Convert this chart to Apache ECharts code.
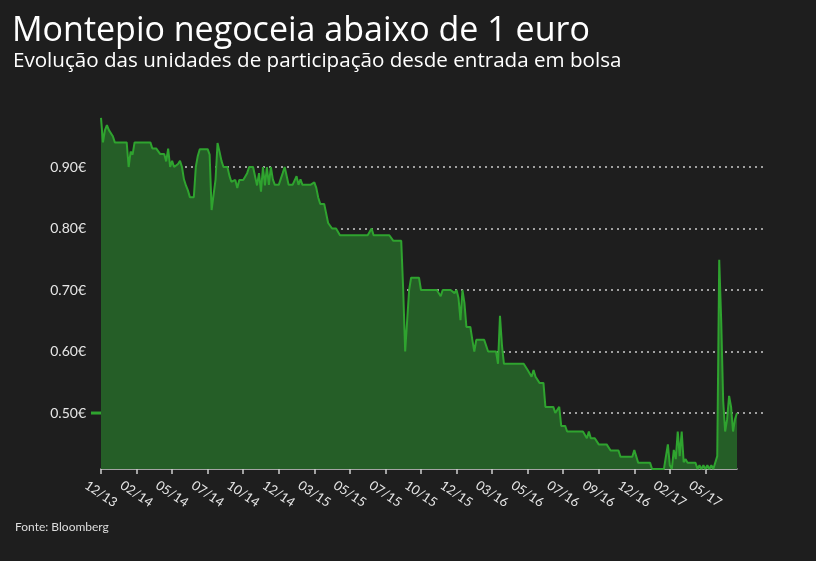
<!DOCTYPE html>
<html>
<head>
<meta charset="utf-8">
<script src="https://cdn.jsdelivr.net/npm/echarts@6/dist/echarts.min.js"></script>
<style>
html,body{margin:0;padding:0;background:#1e1e1e;}
#c{width:816px;height:561px;}
</style>
</head>
<body>
<div id="c"></div>
<script>
const titleText = 'Montepio negoceia abaixo de 1 euro';
const subtitleText = 'Evolução das unidades de participação desde entrada em bolsa';
const sourceText = 'Fonte: Bloomberg';

const tickLabels = ['12/13','02/14','05/14','07/14','10/14','12/14','03/15','05/15','07/15','10/15','12/15','03/16','05/16','07/16','09/16','12/16','02/17','05/17'];
const pointsPerTick = 18;

const yTicks = [0.5, 0.6, 0.7, 0.8, 0.9];

// Unit price (EUR), one reading every ~2 pixels along the axis
const prices = [
  0.98,0.94,0.96,0.968,0.96,0.96,0.95,0.94,0.94,0.94,
  0.94,0.94,0.94,0.94,0.90,0.925,0.92,0.94,0.94,0.94,
  0.94,0.94,0.94,0.94,0.94,0.94,0.93,0.93,0.93,0.93,
  0.921,0.921,0.921,0.909,0.93,0.90,0.91,0.90,0.90,0.905,
  0.91,0.90,0.88,0.87,0.862,0.851,0.851,0.851,0.90,0.918,
  0.929,0.929,0.929,0.929,0.929,0.92,0.83,0.83,0.88,0.939,
  0.925,0.91,0.90,0.90,0.90,0.886,0.876,0.879,0.879,0.866,
  0.879,0.879,0.879,0.879,0.89,0.90,0.90,0.90,0.90,0.87,
  0.89,0.86,0.90,0.87,0.90,0.871,0.90,0.88,0.871,0.871,
  0.871,0.871,0.89,0.90,0.90,0.871,0.871,0.871,0.871,0.885,
  0.871,0.88,0.871,0.871,0.871,0.871,0.871,0.871,0.875,0.866,
  0.85,0.84,0.84,0.84,0.84,0.809,0.809,0.80,0.80,0.80,
  0.80,0.789,0.789,0.789,0.789,0.789,0.789,0.789,0.789,0.789,
  0.789,0.789,0.789,0.789,0.789,0.789,0.789,0.80,0.789,0.789,
  0.789,0.789,0.789,0.789,0.789,0.789,0.789,0.789,0.78,0.78,
  0.78,0.78,0.78,0.70,0.60,0.65,0.70,0.72,0.72,0.72,
  0.72,0.72,0.70,0.70,0.70,0.70,0.70,0.70,0.70,0.70,
  0.70,0.70,0.69,0.70,0.70,0.70,0.70,0.70,0.70,0.695,
  0.70,0.687,0.651,0.70,0.679,0.64,0.64,0.64,0.619,0.60,
  0.619,0.619,0.619,0.619,0.619,0.619,0.60,0.60,0.60,0.60,
  0.60,0.58,0.658,0.61,0.58,0.58,0.58,0.58,0.58,0.58,
  0.58,0.58,0.58,0.58,0.58,0.58,0.57,0.57,0.559,0.57,
  0.559,0.559,0.549,0.549,0.549,0.51,0.51,0.51,0.51,0.51,
  0.50,0.50,0.51,0.479,0.479,0.479,0.47,0.47,0.47,0.47,
  0.47,0.47,0.47,0.47,0.47,0.47,0.459,0.47,0.459,0.459,
  0.459,0.459,0.449,0.449,0.449,0.449,0.449,0.449,0.439,0.439,
  0.439,0.439,0.439,0.429,0.429,0.429,0.429,0.429,0.429,0.429,
  0.44,0.44,0.419,0.419,0.419,0.419,0.419,0.419,0.419,0.409,
  0.409,0.409,0.409,0.409,0.409,0.409,0.409,0.449,0.415,0.409,
  0.44,0.425,0.47,0.43,0.47,0.42,0.425,0.419,0.419,0.419,
  0.419,0.419,0.409,0.415,0.409,0.415,0.409,0.415,0.409,0.415,
  0.409,0.409,0.43,0.749,0.65,0.52,0.47,0.49,0.528,0.51,
  0.47,0.49,0.50
];

const categories = prices.map((_, i) => String(i));

const FONT = 'Lato, "Open Sans", sans-serif';
const TITLE_FONT = '"Open Sans", Lato, sans-serif';
const chart = echarts.init(document.getElementById('c'), null, {renderer: 'canvas'});

const option = {
  backgroundColor: '#1e1e1e',
  animation: false,
  title: [
    {text: titleText, left: 12, top: 14, padding: 0, textStyle: {color: '#ffffff', fontFamily: TITLE_FONT, fontSize: 34, fontWeight: 'normal'}},
    {text: subtitleText, left: 13, top: 51, padding: 0, textStyle: {color: '#ffffff', fontFamily: TITLE_FONT, fontSize: 20.6, fontWeight: 'normal'}},
    {text: sourceText, left: 15, top: 521, padding: 0, textStyle: {color: '#dddddd', fontFamily: FONT, fontSize: 12, fontWeight: 'normal'}}
  ],
  grid: [
    {left: 101, right: 51, top: 105.5, bottom: 86.5, containLabel: false},
    {left: 101, right: 79, top: 105.5, bottom: 92, containLabel: false}
  ],
  xAxis: [
    {gridIndex: 0, type: 'value', show: false, min: 0, max: 1},
    {
      gridIndex: 1, type: 'category', data: categories, boundaryGap: false,
      axisLine: {show: true, lineStyle: {color: '#cfcfcf', width: 1.5}},
      axisTick: {show: true, interval: pointsPerTick - 1, length: 5, lineStyle: {color: '#cfcfcf', width: 1.5}},
      axisLabel: {
        interval: pointsPerTick - 1, rotate: -34, align: 'center', verticalAlign: 'middle', margin: 25,
        color: '#e6e6e6', fontFamily: FONT, fontSize: 13,
        formatter: (v, idx) => (idx % pointsPerTick === 0 ? (tickLabels[idx / pointsPerTick] || '') : '')
      },
      splitLine: {show: false}
    }
  ],
  yAxis: [
    {
      gridIndex: 0, type: 'value', min: 0.4, max: 1.0, interval: 0.1,
      axisLine: {show: false}, axisTick: {show: false},
      axisLabel: {
        showMinLabel: false, showMaxLabel: false, margin: 15,
        color: '#e6e6e6', fontFamily: FONT, fontSize: 14,
        formatter: v => (yTicks.some(t => Math.abs(t - v) < 1e-6) ? v.toFixed(2) + '€' : '')
      },
      splitLine: {show: true, showMinLine: false, showMaxLine: false, lineStyle: {color: '#a0a0a0', width: 2, type: [2, 4]}}
    },
    {gridIndex: 1, type: 'value', min: 0.409, max: 1.0, show: false, splitLine: {show: false}}
  ],
  series: [
    {
      type: 'line', xAxisIndex: 1, yAxisIndex: 1, data: prices,
      showSymbol: false, symbol: 'none',
      lineStyle: {color: '#2fa32f', width: 2},
      areaStyle: {color: '#255e27', opacity: 1, origin: 'start'},
      z: 3
    }
  ]
};
chart.setOption(option);

// small green marker at the 0.50€ level, just left of the plot
const p = chart.convertToPixel({xAxisIndex: 1, yAxisIndex: 1}, [0, 0.5]);
chart.setOption({
  graphic: [{
    type: 'line', shape: {x1: p[0] - 10, y1: p[1], x2: p[0], y2: p[1]},
    style: {stroke: '#2fa32f', lineWidth: 3}, z: 10
  }]
});
</script>
</body>
</html>
